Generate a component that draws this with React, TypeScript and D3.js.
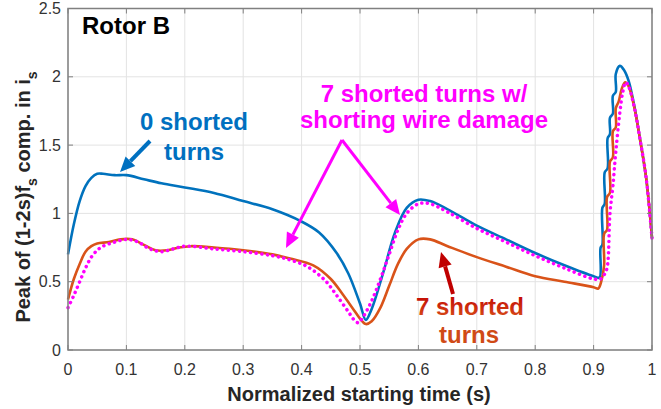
import React from 'react'
import * as d3 from 'd3'

const WIDTH = 661
const HEIGHT = 409
const LEFT = 68
const RIGHT = 652
const TOP = 8.5
const BOTTOM = 350

const xTicks = [0, 0.1, 0.2, 0.3, 0.4, 0.5, 0.6, 0.7, 0.8, 0.9, 1]
const yTicks = [0, 0.5, 1, 1.5, 2, 2.5]

// 0 shorted turns
const healthyT = [0, 0.01, 0.02, 0.03, 0.04, 0.05, 0.06, 0.08, 0.1, 0.13, 0.16, 0.2, 0.25, 0.3, 0.35, 0.4, 0.43, 0.46, 0.48, 0.5, 0.51, 0.52, 0.54, 0.56, 0.58, 0.6, 0.62, 0.65, 0.7, 0.75, 0.8, 0.85, 0.9, 0.91, 0.912, 0.915, 0.915, 0.919, 0.919, 0.924, 0.924, 0.928, 0.928, 0.933, 0.933, 0.938, 0.938, 0.945, 0.952, 0.96, 0.97, 0.98, 0.99, 1.0]
const healthyV = [0.70, 0.92, 1.09, 1.20, 1.26, 1.29, 1.29, 1.28, 1.28, 1.25, 1.22, 1.19, 1.15, 1.09, 1.03, 0.94, 0.86, 0.71, 0.56, 0.34, 0.22, 0.30, 0.57, 0.86, 1.04, 1.10, 1.09, 1.03, 0.91, 0.81, 0.71, 0.62, 0.54, 0.53, 0.75, 0.77, 1.04, 1.07, 1.30, 1.33, 1.55, 1.58, 1.70, 1.73, 1.86, 1.89, 2.02, 2.08, 2.05, 1.97, 1.78, 1.53, 1.26, 0.82]

// 7 shorted turns
const shortedT = [0, 0.01, 0.02, 0.03, 0.04, 0.05, 0.07, 0.09, 0.11, 0.13, 0.15, 0.17, 0.19, 0.21, 0.25, 0.3, 0.35, 0.38, 0.42, 0.45, 0.47, 0.49, 0.5, 0.51, 0.52, 0.535, 0.55, 0.565, 0.58, 0.6, 0.62, 0.65, 0.7, 0.75, 0.8, 0.85, 0.9, 0.908, 0.913, 0.918, 0.918, 0.923, 0.923, 0.928, 0.928, 0.933, 0.933, 0.938, 0.938, 0.943, 0.948, 0.954, 0.96, 0.97, 0.98, 0.99, 1.0]
const shortedV = [0.37, 0.52, 0.63, 0.72, 0.76, 0.78, 0.79, 0.81, 0.81, 0.77, 0.73, 0.73, 0.75, 0.76, 0.75, 0.73, 0.70, 0.67, 0.62, 0.52, 0.41, 0.29, 0.23, 0.19, 0.21, 0.31, 0.47, 0.63, 0.74, 0.81, 0.81, 0.76, 0.68, 0.61, 0.54, 0.50, 0.46, 0.45, 0.50, 0.62, 0.85, 0.88, 1.12, 1.15, 1.38, 1.41, 1.60, 1.63, 1.77, 1.82, 1.91, 1.96, 1.93, 1.77, 1.53, 1.26, 0.82]

// 7 shorted turns w/ shorting wire damage
const damagedT = [0, 0.01, 0.02, 0.03, 0.04, 0.05, 0.06, 0.08, 0.1, 0.12, 0.14, 0.16, 0.18, 0.2, 0.25, 0.3, 0.35, 0.38, 0.41, 0.44, 0.46, 0.48, 0.49, 0.497, 0.505, 0.52, 0.535, 0.55, 0.565, 0.58, 0.6, 0.62, 0.65, 0.7, 0.75, 0.8, 0.85, 0.9, 0.912, 0.918, 0.923, 0.928, 0.933, 0.938, 0.945, 0.95, 0.955, 0.96, 0.97, 0.98, 0.99, 1.0]
const damagedV = [0.31, 0.40, 0.50, 0.60, 0.68, 0.73, 0.76, 0.79, 0.81, 0.79, 0.74, 0.72, 0.74, 0.76, 0.74, 0.72, 0.69, 0.66, 0.61, 0.51, 0.40, 0.28, 0.22, 0.20, 0.24, 0.36, 0.52, 0.70, 0.88, 1.00, 1.07, 1.07, 1.01, 0.89, 0.79, 0.69, 0.60, 0.52, 0.52, 0.55, 0.60, 1.00, 1.20, 1.45, 1.74, 1.89, 1.96, 1.93, 1.77, 1.53, 1.26, 0.82]

const BLUE = '#0072BD'
const ORANGE = '#D95319'
const MAGENTA = '#FF00FF'
const FONT = '"Liberation Sans", Arial, sans-serif'

const x = d3.scaleLinear().domain([0, 1]).range([LEFT, RIGHT])
const y = d3.scaleLinear().domain([0, 2.5]).range([BOTTOM, TOP])

const toPoints = (ts: number[], vs: number[]) => ts.map((t, i) => [t, vs[i]] as [number, number])

const linePath = d3.line<[number, number]>()
  .x(d => x(d[0]))
  .y(d => y(d[1]))
  .curve(d3.curveCatmullRom.alpha(0.5))

const Arrow = ({ x1, y1, x2, y2, color, width, head }: { x1: number, y1: number, x2: number, y2: number, color: string, width: number, head: number }) => {
  const ang = Math.atan2(y2 - y1, x2 - x1)
  const bx = x2 - head * Math.cos(ang)
  const by = y2 - head * Math.sin(ang)
  const w = head * 0.45
  const px = -Math.sin(ang) * w
  const py = Math.cos(ang) * w
  return (
    <g>
      <line x1={x1} y1={y1} x2={bx} y2={by} stroke={color} strokeWidth={width} />
      <polygon points={`${x2},${y2} ${bx + px},${by + py} ${bx - px},${by - py}`} fill={color} />
    </g>
  )
}

const Grid = () => (
  <g>
    {xTicks.map(t => (
      <line key={'gx' + t} x1={x(t)} x2={x(t)} y1={TOP} y2={BOTTOM} stroke="#e3e3e3" strokeWidth={1} />
    ))}
    {yTicks.map(t => (
      <line key={'gy' + t} x1={LEFT} x2={RIGHT} y1={y(t)} y2={y(t)} stroke="#e3e3e3" strokeWidth={1} />
    ))}
  </g>
)

const Frame = () => (
  <g>
    <rect x={LEFT} y={TOP} width={RIGHT - LEFT} height={BOTTOM - TOP} fill="none" stroke="#808080" strokeWidth={1.5} />
    {xTicks.map(t => (
      <g key={'tx' + t}>
        <line x1={x(t)} x2={x(t)} y1={BOTTOM} y2={BOTTOM - 5} stroke="#808080" />
        <line x1={x(t)} x2={x(t)} y1={TOP} y2={TOP + 5} stroke="#808080" />
        <text x={x(t)} y={375} textAnchor="middle" fontSize={16} fill="#333" fontFamily={FONT}>{t}</text>
      </g>
    ))}
    {yTicks.map(t => (
      <g key={'ty' + t}>
        <line x1={LEFT} x2={LEFT + 5} y1={y(t)} y2={y(t)} stroke="#808080" />
        <line x1={RIGHT} x2={RIGHT - 5} y1={y(t)} y2={y(t)} stroke="#808080" />
        <text x={61} y={y(t)} dy="0.35em" textAnchor="end" fontSize={16} fill="#333" fontFamily={FONT}>{t}</text>
      </g>
    ))}
  </g>
)

export default function App() {
  return (
    <svg width={WIDTH} height={HEIGHT} style={{ position: 'absolute', left: 0, top: 0, background: '#fff' }} fontFamily={FONT}>
      <defs>
        <linearGradient id="redText" x1="0" y1="0" x2="0" y2="1">
          <stop offset="0" stopColor="#C00000" />
          <stop offset="1" stopColor="#D9541A" />
        </linearGradient>
      </defs>
      <rect width={WIDTH} height={HEIGHT} fill="#fff" />
      <Grid />
      <path d={linePath(toPoints(healthyT, healthyV)) || ''} fill="none" stroke={BLUE} strokeWidth={2.6} strokeLinejoin="round" />
      <path d={linePath(toPoints(shortedT, shortedV)) || ''} fill="none" stroke={ORANGE} strokeWidth={2.6} strokeLinejoin="round" />
      <path d={linePath(toPoints(damagedT, damagedV)) || ''} fill="none" stroke={MAGENTA} strokeWidth={3.5} strokeDasharray="0.1 5.5" strokeLinecap="round" />
      <Frame />

      <text x={82} y={34} fontSize={24} fontWeight="bold" fill="#000">Rotor B</text>

      <text x={194} y={130} textAnchor="middle" fontSize={24} fontWeight="bold" fill="#0070C0">0 shorted</text>
      <text x={194} y={160} textAnchor="middle" fontSize={24} fontWeight="bold" fill="#0070C0">turns</text>
      <Arrow x1={150} y1={141} x2={120} y2={172} color="#0070C0" width={4} head={15} />

      <text x={424} y={102} textAnchor="middle" fontSize={24} fontWeight="bold" fill={MAGENTA}>7 shorted turns w/</text>
      <text x={424} y={128} textAnchor="middle" fontSize={24} fontWeight="bold" fill={MAGENTA}>shorting wire damage</text>
      <Arrow x1={342} y1={140} x2={286} y2={248} color={MAGENTA} width={3} head={15} />
      <Arrow x1={342} y1={140} x2={400} y2={215} color={MAGENTA} width={3} head={15} />

      <text x={470} y={315} textAnchor="middle" fontSize={24} fontWeight="bold" fill="url(#redText)">7 shorted</text>
      <text x={469} y={343} textAnchor="middle" fontSize={24} fontWeight="bold" fill="#D04A16">turns</text>
      <Arrow x1={453} y1={294} x2={441} y2={252} color="#C00000" width={4} head={15} />

      <text x={359} y={401} textAnchor="middle" fontSize={20} fontWeight="bold" fill="#262626">Normalized starting time (s)</text>
      <text transform={`translate(30, 197) rotate(-90)`} textAnchor="middle" fontSize={20} fontWeight="bold" fill="#262626">
        Peak of (1-2s)f<tspan fontSize={14} dy={7}>s</tspan><tspan dy={-7}> comp. in i</tspan><tspan fontSize={14} dy={7}>s</tspan>
      </text>
    </svg>
  )
}
